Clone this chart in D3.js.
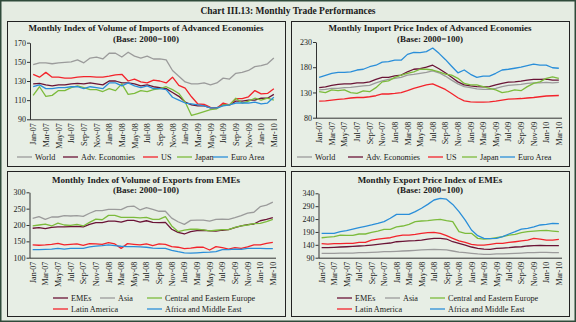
<!DOCTYPE html>
<html>
<head>
<meta charset="utf-8">
<script src="https://cdn.jsdelivr.net/npm/d3@7"></script>
<style>
  body { margin: 0; background: #e5ece2; }
  svg text { font-family: "Liberation Serif", "DejaVu Serif", serif; fill: #1a1a1a; }
</style>
</head>
<body>
<div id="chart"></div>
<script>
// month categories shared by all four panels
var months = ["Jan-07","Feb-07","Mar-07","Apr-07","May-07","Jun-07","Jul-07","Aug-07","Sep-07","Oct-07","Nov-07","Dec-07",
  "Jan-08","Feb-08","Mar-08","Apr-08","May-08","Jun-08","Jul-08","Aug-08","Sep-08","Oct-08","Nov-08","Dec-08",
  "Jan-09","Feb-09","Mar-09","Apr-09","May-09","Jun-09","Jul-09","Aug-09","Sep-09","Oct-09","Nov-09","Dec-09",
  "Jan-10","Feb-10","Mar-10"];
var monthTicks = months.filter(function(m, i) { return i % 2 == 0; });

// volume of imports, advanced economies
var volImpWorld = [147,149,149,148,149,149.5,150,152,149,154,155,153,159,159,155,160,156,154,156,153,153,152,141,135,129,127,127,128,126,128,133,132,138,139,141,145,146,148,154];
var volImpAdv   = [127,127.5,126,125,126,126,127,127.5,127,128,127,126,130,130,128,128,127,125,126,124,123,122,118,114,108,105,104,104,102,102,105,105,109,109,110,110,112,112,116];
var volImpUS    = [137,134,139,134,134,133,133,134,134.5,134.5,134,134,135,136.5,137,130,132,129,128,131,130,128,134,125.5,122.5,113.5,106,105.5,102.5,101.5,107,105,111.5,111.5,113.5,120,116.5,117,122];
var volImpJapan = [115,124,114,115,120,120,123,125,123,121,121,119,122,120,127,116,117,120,119,121,122,124,121,117,108,94,96,98,100,101,105,105,112,107,109,112,110,112,110];
var volImpEuro  = [124,126,122,122,123,123,124,124,122,124,123,122,128,128,125,128,125,123,125,122,122,121,113,110,107,106,105,104,102,102,104,105,107,107,107,108,106,107,113];

// import prices, advanced economies
var priceImpWorld = [135,136,138,138,139.5,140,141.5,143,144,149,153,156,158,160,164.5,166,168,170,173,169,162.5,154.5,147,141.5,139.5,137,136,136,138,141.5,144,145,146,148,149,149,150,149,150];
var priceImpAdv   = [139.5,141,144,146,147,147,149,149,151,156,160,160,163,164.5,171,176,177,180,184,177,169,160,151,145,143,141.5,141,141.5,145,148,150.5,151,152.5,154.5,156,156,156.5,154.5,154.5];
var priceImpUS    = [113,113.5,115,116.5,117.5,119,120,120,121.5,123.5,127,127,128,129.5,133.5,138,141.5,145,147,141.5,136,128,119.5,113.5,111.5,111,111,111.5,113,115,117,117.5,118,119,120,121.5,123,123.5,124];
var priceImpJapan = [131.5,129.5,135,133.5,135,129.5,128,133,131.5,139.5,151,153,160,164.5,168,171,176,176,174.5,171,166.5,164.5,158,148,145,145,141.5,138,135,129.5,131.5,135,133.5,141.5,148,151,158,161,158];
var priceImpEuro  = [160,164,168,170,170,171,174.5,176,181,184,190,191,194,194,205.5,209.5,209,211,218,207.5,195.5,182,169,174.5,166,160,162.5,162.5,168,174.5,176,178,180,183,186,184,184,179,178];

// volume of exports, emerging economies
var volExpEME   = [190,192,189,193,194,194,195,196,194,202,207,207,212,212,209,214,214,209,213,208,207,208,187,177.5,172.5,180,183,184,182,181,184,186,192,197,201,203,213,217,222.5];
var volExpAsia  = [220,225.5,217,224.5,224.5,228.5,227.5,228.5,226.5,236,244,244,248,248,247,256,258,246,253,248,242,242,221,210,202,214,215,215,212,217,218,217,222.5,228.5,236,239,256,261,270];
var volExpCEE   = [197,200,203,197,206,200,199,202,197,208,218,216,229.5,229.5,223.5,223.5,223.5,221.5,223.5,217,217,225.5,197,180,184,187,187,185,182,184,186,186,193,197,200,204,205,210,217];
var volExpLatAm = [139,138,139,141,144,139,141,142,138,143,142,141,146,142,128.5,143,141,139,142,137,142,141,134,132,127.5,129.5,132,132,123.5,134,130.5,126.5,130.5,128.5,133,139,139,144,147];
var volExpAfrME = [124.5,124.5,125.5,126.5,128.5,126.5,128.5,128.5,128.5,133,135.5,137,139,137,135,134,134,133,132,129.5,128.5,128.5,122.5,118.5,115,114,115,116,117,118.5,124.5,124.5,126.5,125.5,128.5,128.5,128.5,127.5,127.5];

// export prices, emerging economies
var priceExpEME   = [129,129,130,131.5,132.5,134,135.5,136.5,139,142,144.5,147,152,153.5,155,156,158.5,162.5,165,165,162.5,152,145.5,139,131.5,126.5,123.5,122.5,126.5,127.5,129,131.5,132.5,135.5,136.5,138,136.5,136.5,136.5];
var priceExpAsia  = [107,107,107,108,108,108,109.5,109.5,110.5,112,113.5,113.5,114.5,116,117,118.5,120,121,122.5,121,120,116,112,109.5,107,104.5,103,103,104.5,104.5,105.5,107,108,109.5,109.5,110.5,110.5,109.5,109.5];
var priceExpCEE   = [167.5,170,171.5,178,177,177,182,182,188.5,193.5,200,200,210,213,219.5,230,232.5,234,236.5,239,234,230,191,184.5,184.5,165,162.5,164,167.5,171.5,178,180.5,187,191,193.5,195,196,193.5,191];
var priceExpLatAm = [144.5,143,144.5,144.5,145.5,145.5,149.5,149.5,158.5,162.5,165,167.5,174,178,178,180.5,184.5,187,188.5,184.5,175.5,165,155,149.5,142,139,139,142,145.5,145.5,149.5,152,155,158.5,165,162.5,158.5,158.5,161];
var priceExpAfrME = [184.5,184.5,184.5,191,195,201,207,212,217,223,230,243,258,258,258,269,282,297,314,320.5,317,297,269,236,197.5,175.5,165,164,165,171.5,182,191,201,204,210,217,219.5,223.5,222];

var colors = {
  gray: "#9b9b9b",
  maroon: "#6a1436",
  red: "#f3232b",
  green: "#7cbb3c",
  blue: "#2a8ed9"
};

var width = 576, height = 322;

var svg = d3.select("#chart").append("svg")
    .attr("width", width)
    .attr("height", height);

svg.append("rect")
    .attr("x", 0.75).attr("y", 0.75)
    .attr("width", width - 1.5).attr("height", height - 1.5)
    .attr("fill", "#e5ece2")
    .attr("stroke", "#2f4a3a")
    .attr("stroke-width", 1.5);

svg.append("text")
    .attr("x", 288).attr("y", 14)
    .attr("text-anchor", "middle")
    .style("font-size", "9.5px")
    .style("font-weight", "bold")
    .text("Chart III.13: Monthly Trade Performances");

var panels = [
  {
    box: [7, 21, 278, 145],
    title: "Monthly Index of Volume of Imports of Advanced Economies",
    sub: "(Base: 2000=100)",
    titleY: 31, subY: 42,
    plot: {x0: 30, x1: 277, y0: 119.3, y1: 42.7},
    domain: [90, 170], ticks: [90, 110, 130, 150, 170],
    series: [
      {name: "World", values: volImpWorld, color: colors.gray, lx: 17, ly: 157},
      {name: "Adv. Economies", values: volImpAdv, color: colors.maroon, lx: 63, ly: 157},
      {name: "US", values: volImpUS, color: colors.red, lx: 143, ly: 157},
      {name: "Japan", values: volImpJapan, color: colors.green, lx: 177, ly: 157},
      {name: "Euro Area", values: volImpEuro, color: colors.blue, lx: 213, ly: 157}
    ]
  },
  {
    box: [291, 21, 278, 145],
    title: "Monthly Import Price Index of Advanced Economies",
    sub: "(Base: 2000=100)",
    titleY: 31, subY: 42,
    plot: {x0: 316, x1: 562, y0: 117.7, y1: 42},
    domain: [80, 230], ticks: [80, 130, 180, 230],
    series: [
      {name: "World", values: priceImpWorld, color: colors.gray, lx: 297, ly: 157},
      {name: "Adv. Economies", values: priceImpAdv, color: colors.maroon, lx: 348, ly: 157},
      {name: "US", values: priceImpUS, color: colors.red, lx: 428, ly: 157},
      {name: "Japan", values: priceImpJapan, color: colors.green, lx: 462, ly: 157},
      {name: "Euro Area", values: priceImpEuro, color: colors.blue, lx: 500, ly: 157}
    ]
  },
  {
    box: [7, 171, 278, 145],
    title: "Monthly  Index of Volume of Exports from EMEs",
    sub: "(Base: 2000=100)",
    titleY: 183, subY: 192.5,
    plot: {x0: 29.5, x1: 276, y0: 257.7, y1: 192.3},
    domain: [100, 300], ticks: [100, 150, 200, 250, 300],
    series: [
      {name: "EMEs", values: volExpEME, color: colors.maroon, lx: 53, ly: 298},
      {name: "Asia", values: volExpAsia, color: colors.gray, lx: 100, ly: 298},
      {name: "Central and Eastern Europe", values: volExpCEE, color: colors.green, lx: 147, ly: 298},
      {name: "Latin America", values: volExpLatAm, color: colors.red, lx: 53, ly: 309},
      {name: "Africa and Middle East", values: volExpAfrME, color: colors.blue, lx: 147, ly: 309}
    ]
  },
  {
    box: [291, 171, 278, 145],
    title: "Monthly Export Price Index of EMEs",
    sub: "(Base: 2000=100)",
    titleY: 183, subY: 192.5,
    plot: {x0: 318.5, x1: 562, y0: 257.7, y1: 193.3},
    domain: [90, 340], ticks: [90, 140, 190, 240, 290, 340],
    series: [
      {name: "EMEs", values: priceExpEME, color: colors.maroon, lx: 337, ly: 298},
      {name: "Asia", values: priceExpAsia, color: colors.gray, lx: 385, ly: 298},
      {name: "Central and Eastern Europe", values: priceExpCEE, color: colors.green, lx: 430, ly: 298},
      {name: "Latin America", values: priceExpLatAm, color: colors.red, lx: 337, ly: 309},
      {name: "Africa and Middle East", values: priceExpAfrME, color: colors.blue, lx: 430, ly: 309}
    ]
  }
];

panels.forEach(function(p) {
  var g = svg.append("g");

  g.append("rect")
      .attr("x", p.box[0] + 0.5).attr("y", p.box[1] + 0.5)
      .attr("width", p.box[2]).attr("height", p.box[3])
      .attr("fill", "#e7eee5")
      .attr("stroke", "#222")
      .attr("stroke-width", 1);

  var cx = p.box[0] + p.box[2] / 2;
  g.append("text")
      .attr("x", cx).attr("y", p.titleY)
      .attr("text-anchor", "middle")
      .style("font-size", "9px").style("font-weight", "bold")
      .text(p.title);
  g.append("text")
      .attr("x", cx).attr("y", p.subY)
      .attr("text-anchor", "middle")
      .style("font-size", "9px").style("font-weight", "bold")
      .text(p.sub);

  var x = d3.scalePoint()
      .domain(months)
      .range([p.plot.x0, p.plot.x1])
      .padding(0.5);

  var y = d3.scaleLinear()
      .domain(p.domain)
      .range([p.plot.y0, p.plot.y1]);

  var yAxis = g.append("g")
      .attr("transform", "translate(" + p.plot.x0 + ",0)")
      .call(d3.axisLeft(y).tickValues(p.ticks).tickSize(3).tickPadding(1).tickSizeOuter(0));
  yAxis.selectAll("text").style("font-size", "8px").style("font-family", "Liberation Serif");

  var xAxis = g.append("g")
      .attr("transform", "translate(0," + p.plot.y0 + ")")
      .call(d3.axisBottom(x).tickValues(monthTicks).tickSize(0).tickSizeOuter(0));
  xAxis.select(".domain").attr("d", "M" + p.plot.x0 + ",0.5H" + p.plot.x1);
  xAxis.selectAll("text")
      .attr("transform", "rotate(-90)")
      .attr("x", -4).attr("y", 0).attr("dy", "0.32em")
      .style("text-anchor", "end")
      .style("font-size", "8px").style("font-family", "Liberation Serif");

  g.selectAll(".domain, .tick line").attr("stroke", "#333");

  var line = d3.line()
      .x(function(d, i) { return x(months[i]); })
      .y(function(d) { return y(d); });

  g.selectAll(".series")
      .data(p.series)
      .enter().append("path")
      .attr("class", "series")
      .attr("d", function(s) { return line(s.values); })
      .attr("fill", "none")
      .attr("stroke", function(s) { return s.color; })
      .attr("stroke-width", 1.3)
      .attr("stroke-linejoin", "round");

  var leg = g.selectAll(".leg")
      .data(p.series)
      .enter().append("g")
      .attr("class", "leg")
      .attr("transform", function(s) { return "translate(" + s.lx + "," + s.ly + ")"; });
  leg.append("line")
      .attr("x1", 0).attr("x2", 15)
      .attr("stroke", function(s) { return s.color; })
      .attr("stroke-width", 1.3);
  leg.append("text")
      .attr("x", 18).attr("dy", "0.32em")
      .style("font-size", "8.2px")
      .text(function(s) { return s.name; });
});
</script>
</body>
</html>
